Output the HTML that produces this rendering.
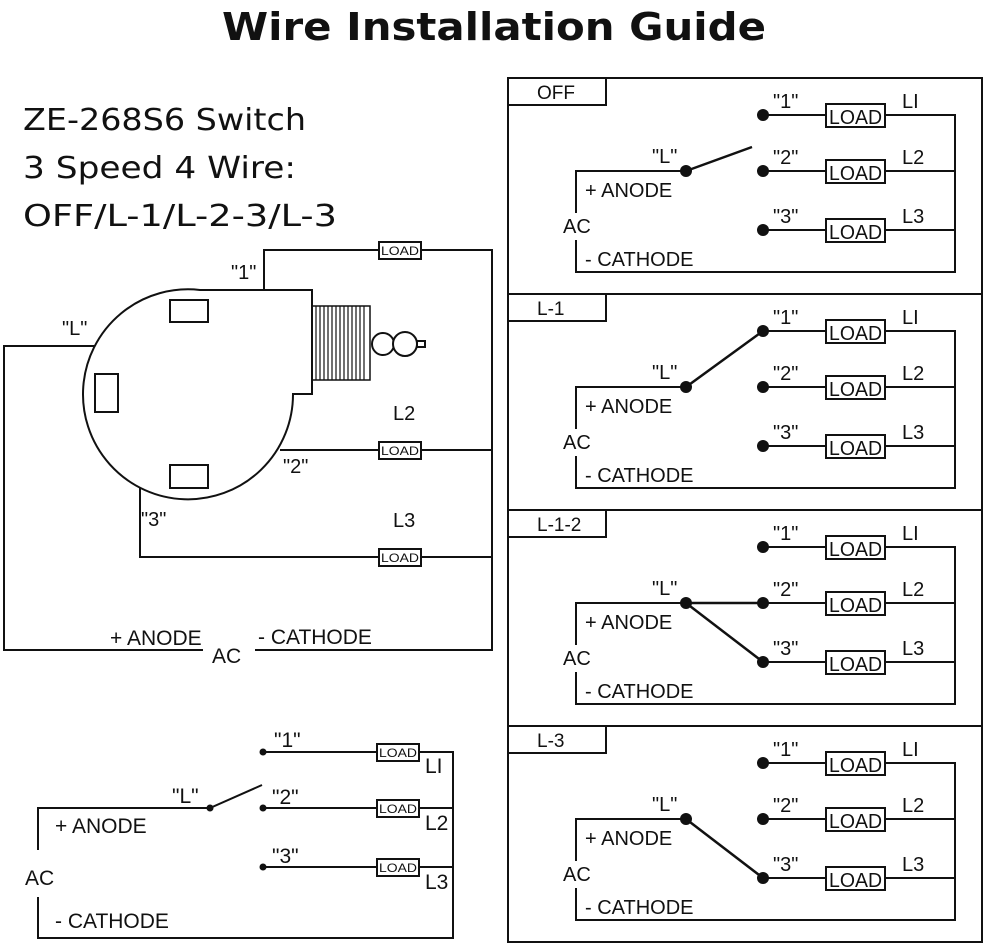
<!DOCTYPE html>
<html><head><meta charset="utf-8"><style>
html,body{margin:0;padding:0;background:#fff;width:992px;height:947px;overflow:hidden}
svg{display:block}
text{font-family:"Liberation Sans",sans-serif;fill:#111}
</style></head><body>
<svg width="992" height="947" viewBox="0 0 992 947" xmlns="http://www.w3.org/2000/svg">
<text x="222" y="40" font-weight="bold" font-size="38" textLength="544" lengthAdjust="spacingAndGlyphs" style="font-family:'DejaVu Sans',sans-serif">Wire Installation Guide</text>
<text x="23" y="130" font-size="30" textLength="283" lengthAdjust="spacingAndGlyphs" style="font-family:'DejaVu Sans',sans-serif">ZE-268S6 Switch</text>
<text x="23" y="178" font-size="30" textLength="273" lengthAdjust="spacingAndGlyphs" style="font-family:'DejaVu Sans',sans-serif">3 Speed 4 Wire:</text>
<text x="23" y="226" font-size="30" textLength="314" lengthAdjust="spacingAndGlyphs" style="font-family:'DejaVu Sans',sans-serif">OFF/L-1/L-2-3/L-3</text>

<g stroke="#111" stroke-width="2" fill="none">
<path d="M200,290 L312,290 L312,394 L293,394 A105,105 0 1 1 200,290 Z" fill="#fff"/>
<rect x="170" y="300" width="38" height="22"/>
<rect x="95" y="374" width="23" height="38"/>
<rect x="170" y="465" width="38" height="23"/>
<rect x="312" y="306" width="58" height="74" stroke-width="1.5"/>
<path d="M316,306 V380 M320,306 V380 M324,306 V380 M328,306 V380 M332,306 V380 M336,306 V380 M340,306 V380 M344,306 V380 M348,306 V380 M352,306 V380 M356,306 V380 M360,306 V380 M364,306 V380" stroke-width="1.2"/>
<circle cx="383" cy="344" r="11" fill="#fff"/>
<circle cx="405" cy="344" r="12" fill="#fff"/>
<rect x="417" y="341" width="8" height="6"/>
<polyline points="264,290 264,250 379,250"/>
<polyline points="421,250 492,250 492,650 255,650"/>
<polyline points="203,650 4,650 4,346 95,346"/>
<polyline points="280,450 379,450"/>
<polyline points="421,450 492,450"/>
<polyline points="140,488 140,557 379,557"/>
<polyline points="421,557 492,557"/>
<rect x="379" y="242" width="42" height="17"/>
<rect x="379" y="442" width="42" height="17"/>
<rect x="379" y="549" width="42" height="17"/>
</g>
<g font-size="12"><text x="381" y="255" textLength="38" lengthAdjust="spacingAndGlyphs">LOAD</text><text x="381" y="455" textLength="38" lengthAdjust="spacingAndGlyphs">LOAD</text><text x="381" y="562" textLength="38" lengthAdjust="spacingAndGlyphs">LOAD</text></g>
<g font-size="20">
<text x="231" y="279">"1"</text>
<text x="62" y="335">"L"</text>
<text x="283" y="473">"2"</text>
<text x="141" y="526">"3"</text>
<text x="393" y="420">L2</text>
<text x="393" y="527">L3</text>
<text x="110" y="645" font-size="21">+ ANODE</text>
<text x="212" y="663" font-size="21">AC</text>
<text x="258" y="644" font-size="21">- CATHODE</text>
</g>

<g stroke="#111" stroke-width="2" fill="none">
<polyline points="38,850 38,808 210,808 262,785"/>
<polyline points="38,897 38,938 453,938 453,752 419,752"/>
<line x1="263" y1="752" x2="377" y2="752"/>
<line x1="263" y1="808" x2="377" y2="808"/>
<line x1="263" y1="867" x2="377" y2="867"/>
<line x1="419" y1="808" x2="453" y2="808"/>
<line x1="419" y1="867" x2="453" y2="867"/>
<rect x="377" y="744" width="42" height="17"/>
<rect x="377" y="800" width="42" height="17"/>
<rect x="377" y="859" width="42" height="17"/>
</g>
<g fill="#111"><circle cx="263" cy="752" r="3.5"/><circle cx="263" cy="808" r="3.5"/><circle cx="263" cy="867" r="3.5"/><circle cx="210" cy="808" r="3.5"/></g>
<g font-size="12"><text x="379" y="757" textLength="38" lengthAdjust="spacingAndGlyphs">LOAD</text><text x="379" y="813" textLength="38" lengthAdjust="spacingAndGlyphs">LOAD</text><text x="379" y="872" textLength="38" lengthAdjust="spacingAndGlyphs">LOAD</text></g>
<g font-size="21">
<text x="274" y="747">"1"</text><text x="272" y="804">"2"</text><text x="272" y="863">"3"</text>
<text x="172" y="803">"L"</text>
<text x="425" y="773">LI</text><text x="425" y="830">L2</text><text x="425" y="889">L3</text>
<text x="55" y="833">+ ANODE</text>
<text x="25" y="885">AC</text>
<text x="55" y="928">- CATHODE</text>
</g>

<rect x="508" y="78" width="474" height="864" fill="none" stroke="#111" stroke-width="2"/>
<defs>
<g id="panel">
<g stroke="#111" stroke-width="2" fill="none">
<line x1="508" y1="78" x2="982" y2="78"/>
<rect x="508" y="78" width="98" height="27"/>
<line x1="763" y1="115" x2="826" y2="115"/><line x1="763" y1="171" x2="826" y2="171"/><line x1="763" y1="230" x2="826" y2="230"/>
<line x1="885" y1="115" x2="955" y2="115"/><line x1="885" y1="171" x2="955" y2="171"/><line x1="885" y1="230" x2="955" y2="230"/>
<rect x="826" y="104" width="59" height="23"/><rect x="826" y="160" width="59" height="23"/><rect x="826" y="219" width="59" height="23"/>
<polyline points="955,114 955,272 576,272 576,240"/>
<polyline points="576,213 576,171 686,171"/>
</g>
<g fill="#111"><circle cx="763" cy="115" r="6"/><circle cx="763" cy="171" r="6"/><circle cx="763" cy="230" r="6"/><circle cx="686" cy="171" r="6"/></g>
<g font-size="20">
<text x="829" y="124" textLength="53" lengthAdjust="spacingAndGlyphs">LOAD</text><text x="829" y="180" textLength="53" lengthAdjust="spacingAndGlyphs">LOAD</text><text x="829" y="239" textLength="53" lengthAdjust="spacingAndGlyphs">LOAD</text>
<text x="773" y="108">"1"</text><text x="773" y="164">"2"</text><text x="773" y="223">"3"</text>
<text x="902" y="108">LI</text><text x="902" y="164">L2</text><text x="902" y="223">L3</text>
<text x="652" y="163">"L"</text>
<text x="585" y="197">+ ANODE</text>
<text x="563" y="233">AC</text>
<text x="585" y="266">- CATHODE</text>
</g>
</g>
</defs>
<use href="#panel"/>
<use href="#panel" transform="translate(0,216)"/>
<use href="#panel" transform="translate(0,432)"/>
<use href="#panel" transform="translate(0,648)"/>
<g font-size="19">
<text x="537" y="99">OFF</text>
<text x="537" y="315">L-1</text>
<text x="537" y="531">L-1-2</text>
<text x="537" y="747">L-3</text>
</g>
<g stroke="#111" stroke-width="2.5" fill="none">
<line x1="686" y1="171" x2="752" y2="147"/>
<line x1="686" y1="387" x2="763" y2="331"/>
<line x1="686" y1="603" x2="763" y2="603"/>
<line x1="686" y1="603" x2="763" y2="662"/>
<line x1="686" y1="819" x2="763" y2="878"/>
</g>
</svg>
</body></html>
